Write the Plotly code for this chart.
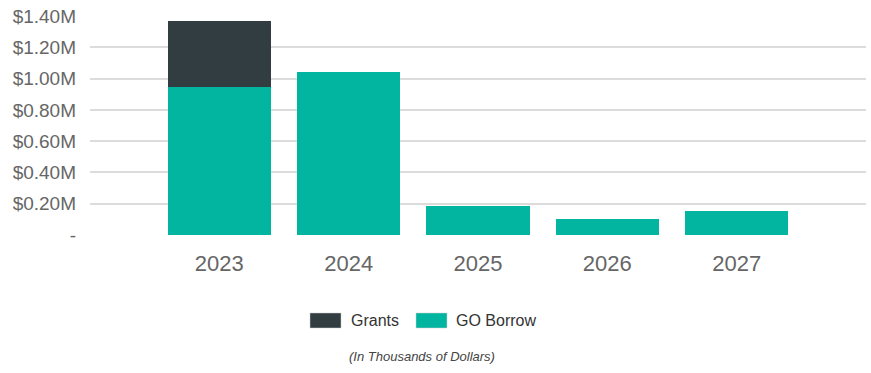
import plotly.graph_objects as go

# Capital funding by year (dollars)
years = ["2023", "2024", "2025", "2026", "2027"]
grants = [420000, 0, 0, 0, 0]
go_borrow = [945000, 1044000, 185000, 101000, 151000]

y_tick_vals = [0, 200000, 400000, 600000, 800000, 1000000, 1200000, 1400000]
y_tick_text = ["-", "$0.20M", "$0.40M", "$0.60M", "$0.80M", "$1.00M", "$1.20M", "$1.40M"]

series_names = ["Grants", "GO Borrow"]
series_colors = ["#313d40", "#02b5a0"]

W, H = 871, 373
ML, MR, MT, MB = 90, 5, 16, 138

fig = go.Figure()
fig.add_trace(go.Bar(x=years, y=go_borrow, name=series_names[1],
                     marker=dict(color=series_colors[1], line=dict(width=0)),
                     showlegend=False))
fig.add_trace(go.Bar(x=years, y=grants, name=series_names[0],
                     marker=dict(color=series_colors[0], line=dict(width=0)),
                     showlegend=False))

font_family = "Liberation Sans, Arial, sans-serif"

fig.update_layout(
    width=W, height=H,
    margin=dict(l=ML, r=MR, t=MT, b=MB),
    barmode="stack",
    bargap=0.2,
    plot_bgcolor="white",
    paper_bgcolor="white",
    font=dict(family=font_family, color="#666666"),
    xaxis=dict(
        type="category",
        range=[-1.0, 5.0],
        showgrid=False, zeroline=False, showline=False,
        ticks="",
        tickfont=dict(size=22, color="#666666"),
        ticklabelstandoff=13,
    ),
    yaxis=dict(
        range=[0, 1400000],
        tickvals=y_tick_vals,
        ticktext=y_tick_text,
        showgrid=True, gridcolor="#dcdcdc", gridwidth=1.5,
        zeroline=False, showline=False,
        ticks="",
        tickfont=dict(size=19, color="#666666"),
        ticklabelstandoff=13,
    ),
)

# Legend drawn as wide swatches with labels beneath the plot
plot_h = H - MT - MB
plot_w = W - ML - MR


def px_x(px):
    return (px - ML) / plot_w


def px_y(py):
    return (H - MB - py) / plot_h


legend_items = [
    (series_names[0], series_colors[0], 310, 349),
    (series_names[1], series_colors[1], 416, 454),
]
for label, color, sx, tx in legend_items:
    fig.add_shape(type="rect", xref="paper", yref="paper",
                  x0=px_x(sx), x1=px_x(sx + 31), y0=px_y(328), y1=px_y(313),
                  fillcolor=color, line=dict(width=0.5, color="#cccccc"))
    fig.add_annotation(xref="paper", yref="paper", x=px_x(tx), y=px_y(320.5),
                       text=label, showarrow=False, xanchor="left", yanchor="middle",
                       font=dict(size=16, color="#333333", family=font_family))

fig.add_annotation(xref="paper", yref="paper", x=px_x(421.5), y=px_y(357),
                   text="<i>(In Thousands of Dollars)</i>", showarrow=False,
                   xanchor="center", yanchor="middle",
                   font=dict(size=13, color="#444444", family=font_family))

fig.write_html("out.html")
